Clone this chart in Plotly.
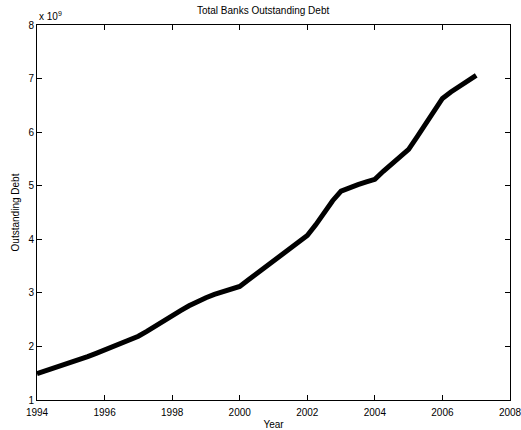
import plotly.graph_objects as go

# Quarterly observations, 1994Q1 .. 2007Q1
years = [1994 + 0.25 * i for i in range(53)]
# Outstanding debt, in units of 10^9
debt = [
    1.49, 1.54, 1.59, 1.64, 1.69, 1.75, 1.81, 1.87,
    1.93, 1.99, 2.05, 2.12, 2.19, 2.28, 2.38, 2.49,
    2.58, 2.67, 2.76, 2.84, 2.91, 2.97, 3.02, 3.07,
    3.12, 3.24, 3.36, 3.48, 3.59, 3.71, 3.83, 3.94,
    4.07, 4.27, 4.50, 4.72, 4.90, 4.97, 5.02, 5.07,
    5.12, 5.27, 5.41, 5.55, 5.68, 5.91, 6.16, 6.40,
    6.63, 6.75, 6.85, 6.95, 7.06,
]
x_ticks = [1994, 1996, 1998, 2000, 2002, 2004, 2006, 2008]
y_ticks = [1, 2, 3, 4, 5, 6, 7, 8]

font = dict(family="Liberation Sans, Arial, sans-serif", size=10, color="black")

fig = go.Figure()
fig.add_trace(go.Scatter(
    x=years, y=debt, mode="lines",
    line=dict(color="black", width=5),
    showlegend=False,
))

axis_common = dict(
    showgrid=False, zeroline=False, showline=True, linecolor="black",
    linewidth=1, mirror="ticks", ticks="inside", ticklen=5,
    tickcolor="black", tickfont=font, automargin=False,
    ticklabeloverflow="allow",
)
fig.update_xaxes(range=[1994, 2008], tickvals=x_ticks, ticklabelstandoff=3,
                 title=dict(text="Year", font=font, standoff=3), **axis_common)
fig.update_yaxes(range=[1, 8], tickvals=y_ticks,
                 title=dict(text="Outstanding Debt", font=font, standoff=6),
                 **axis_common)

fig.update_layout(
    width=521, height=430,
    margin=dict(l=37, r=11, t=25, b=30),
    paper_bgcolor="white", plot_bgcolor="white",
    font=font,
    title=dict(text="Total Banks Outstanding Debt", x=0.505, xanchor="center",
               y=0.975, yanchor="middle", font=font),
    annotations=[dict(
        text="x 10<sup>9</sup>", xref="paper", yref="paper",
        x=0, y=1, xanchor="left", yanchor="bottom", showarrow=False,
        font=font, yshift=1,
    )],
)

fig.write_html("out.html")
